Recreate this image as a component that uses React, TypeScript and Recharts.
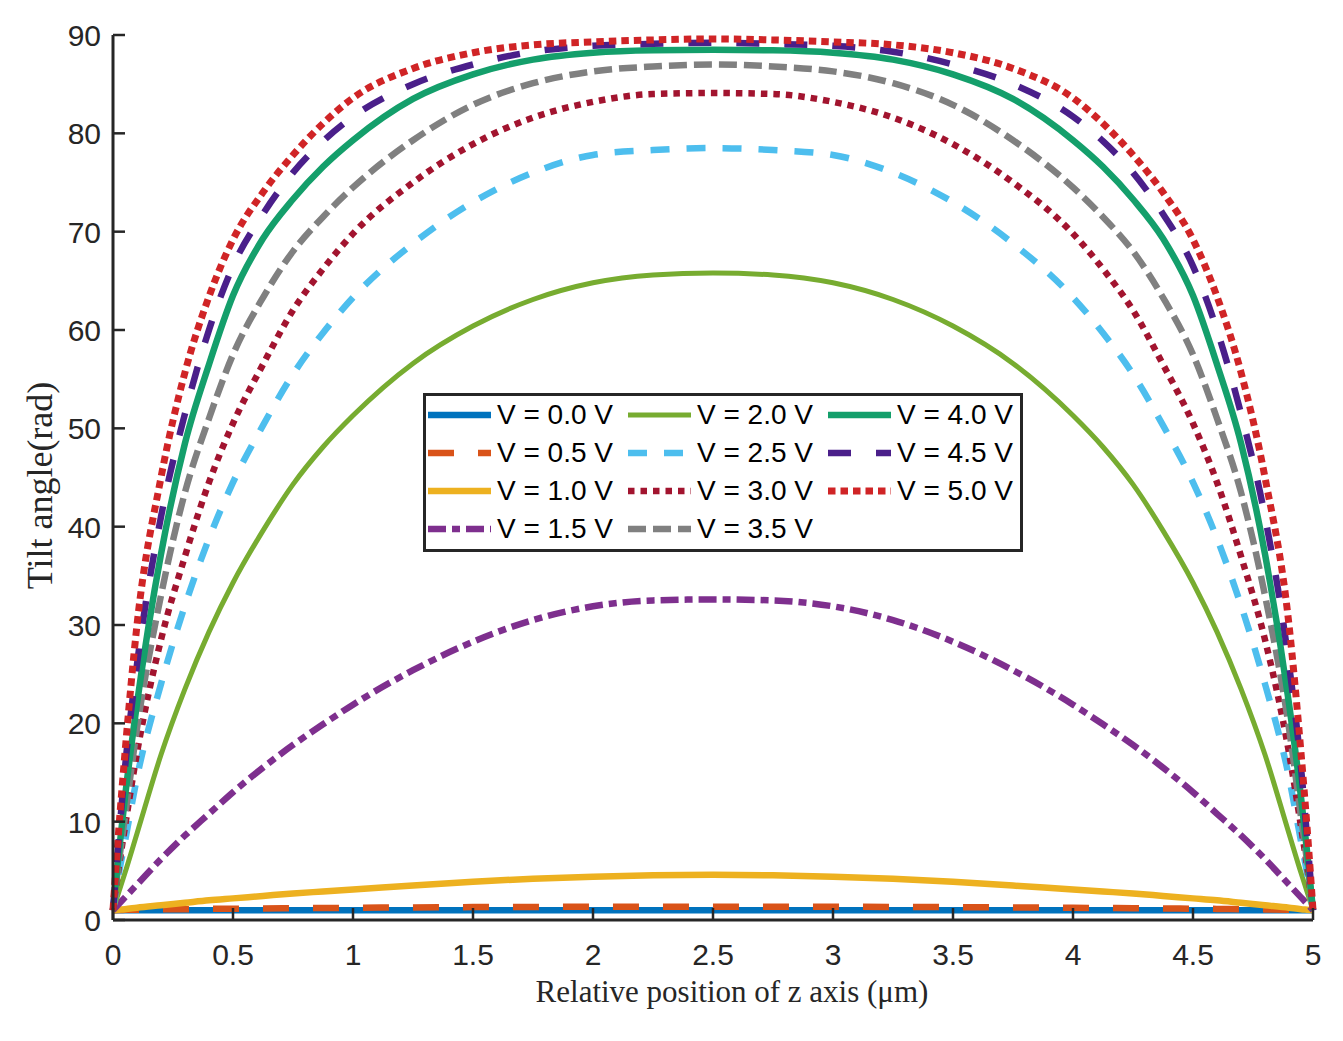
import { Legend, Line, LineChart, XAxis, YAxis } from "recharts";

// z positions across the cell (µm)
const zPos = [0, 0.025, 0.05, 0.1, 0.2, 0.3, 0.4, 0.5, 0.625, 0.75, 0.875, 1, 1.25, 1.5, 1.75, 2, 2.25, 2.5, 2.75, 3, 3.25, 3.5, 3.75, 4, 4.125, 4.25, 4.375, 4.5, 4.6, 4.7, 4.8, 4.9, 4.95, 4.975, 5];

// tilt angle for each applied voltage
const v00 = [1, 1, 1, 1, 1, 1, 1, 1, 1, 1, 1, 1, 1, 1, 1, 1, 1, 1, 1, 1, 1, 1, 1, 1, 1, 1, 1, 1, 1, 1, 1, 1, 1, 1, 1];
const v05 = [1, 1.02, 1.03, 1.05, 1.08, 1.1, 1.13, 1.15, 1.18, 1.2, 1.22, 1.24, 1.28, 1.31, 1.33, 1.34, 1.35, 1.35, 1.35, 1.34, 1.33, 1.31, 1.28, 1.24, 1.22, 1.2, 1.18, 1.15, 1.13, 1.1, 1.08, 1.05, 1.03, 1.02, 1];
const v10 = [1, 1.05, 1.1, 1.25, 1.5, 1.75, 2, 2.2, 2.45, 2.7, 2.9, 3.1, 3.5, 3.9, 4.2, 4.4, 4.55, 4.6, 4.55, 4.4, 4.2, 3.9, 3.5, 3.1, 2.9, 2.7, 2.45, 2.2, 2, 1.75, 1.5, 1.25, 1.1, 1.05, 1];
const v15 = [1, 1.65, 2.3, 3.6, 6.2, 8.6, 10.8, 13, 15.5, 17.8, 19.9, 21.9, 25.4, 28.3, 30.5, 31.9, 32.5, 32.6, 32.5, 31.9, 30.5, 28.3, 25.4, 21.9, 19.9, 17.8, 15.5, 13, 10.8, 8.6, 6.2, 3.6, 2.3, 1.65, 1];
const v20 = [1, 2.9, 4.8, 8.8, 16.8, 23.5, 29.3, 34.3, 39.6, 44.3, 48.1, 51.3, 56.6, 60.4, 63.1, 64.8, 65.6, 65.8, 65.6, 64.8, 63.1, 60.4, 56.6, 51.3, 48.1, 44.3, 39.6, 34.3, 29.3, 23.5, 16.8, 8.8, 4.8, 2.9, 1];
const v25 = [1, 4.8, 8, 14.5, 24, 32, 38.8, 44.5, 50.3, 55.5, 59.7, 63.3, 68.8, 73, 76, 77.8, 78.3, 78.5, 78.3, 77.8, 76, 73, 68.8, 63.3, 59.7, 55.5, 50.3, 44.5, 38.8, 32, 24, 14.5, 8, 4.8, 1];
const v30 = [1, 5.5, 9.5, 17, 28.5, 37, 44.5, 50.5, 56.5, 62, 66.2, 69.8, 75, 78.9, 81.6, 83.2, 84, 84.1, 84, 83.2, 81.6, 78.9, 75, 69.8, 66.2, 62, 56.5, 50.5, 44.5, 37, 28.5, 17, 9.5, 5.5, 1];
const v35 = [1, 6, 10.5, 19.5, 33, 43.5, 51, 57.5, 63.3, 68, 71.5, 74.5, 79.3, 82.9, 85.1, 86.3, 86.8, 87, 86.8, 86.3, 85.1, 82.9, 79.3, 74.5, 71.5, 68, 63.3, 57.5, 51, 43.5, 33, 19.5, 10.5, 6, 1];
const v40 = [1, 7, 12.5, 22, 37.2, 48.5, 56.5, 63.5, 69.3, 73.3, 76.6, 79.3, 83.5, 86, 87.5, 88.2, 88.45, 88.5, 88.45, 88.2, 87.5, 86, 83.5, 79.3, 76.6, 73.3, 69.3, 63.5, 56.5, 48.5, 37.2, 22, 12.5, 7, 1];
const v45 = [1, 8.5, 15.5, 26, 41, 51.5, 60, 66.5, 71.8, 76, 79.2, 81.7, 85, 87, 88.3, 88.9, 89.1, 89.2, 89.1, 88.9, 88.3, 87, 85, 81.7, 79.2, 76, 71.8, 66.5, 60, 51.5, 41, 26, 15.5, 8.5, 1];
const v50 = [1, 9.5, 17, 30, 45, 55.7, 63.4, 69.2, 74, 77.8, 81, 83.6, 86.6, 88.2, 89, 89.3, 89.5, 89.6, 89.5, 89.3, 89, 88.2, 86.6, 83.6, 81, 77.8, 74, 69.2, 63.4, 55.7, 45, 30, 17, 9.5, 1];

const xTicks = [0, 0.5, 1, 1.5, 2, 2.5, 3, 3.5, 4, 4.5, 5];
const yTicks = [0, 10, 20, 30, 40, 50, 60, 70, 80, 90];

const series = [
  { key: "v00", label: "V = 0.0 V", values: v00, color: "#0072BD", width: 6.5, dash: undefined },
  { key: "v05", label: "V = 0.5 V", values: v05, color: "#D95319", width: 6.5, dash: "26 24" },
  { key: "v10", label: "V = 1.0 V", values: v10, color: "#EDB120", width: 6.5, dash: undefined },
  { key: "v15", label: "V = 1.5 V", values: v15, color: "#7E2F8E", width: 6.5, dash: "18 6 8 6" },
  { key: "v20", label: "V = 2.0 V", values: v20, color: "#77AC30", width: 5, dash: undefined },
  { key: "v25", label: "V = 2.5 V", values: v25, color: "#4DBEEE", width: 6.5, dash: "19 17" },
  { key: "v30", label: "V = 3.0 V", values: v30, color: "#A2142F", width: 6.5, dash: "6.5 6" },
  { key: "v35", label: "V = 3.5 V", values: v35, color: "#808080", width: 6.5, dash: "18 7" },
  { key: "v40", label: "V = 4.0 V", values: v40, color: "#149F6B", width: 6.5, dash: undefined },
  { key: "v45", label: "V = 4.5 V", values: v45, color: "#4A1F8A", width: 6.5, dash: "23 25" },
  { key: "v50", label: "V = 5.0 V", values: v50, color: "#D02426", width: 7, dash: "7.5 5" },
];

const data = zPos.map((z, i) => {
  const row: Record<string, number> = { z };
  series.forEach((s) => (row[s.key] = s.values[i]));
  return row;
});

const INK = "#262626";
const SANS = "'Liberation Sans', Arial, Helvetica, sans-serif";
const SERIF = "'Liberation Serif', 'Times New Roman', serif";
const TICK = 12;

function BottomTick({ x, y, payload }: any) {
  return (
    <g>
      <line x1={x} x2={x} y1={y} y2={y - TICK} stroke={INK} strokeWidth={2.5} />
      <text x={x} y={y + 45} textAnchor="middle" fontSize={30} fontFamily={SANS} fill={INK}>
        {String(payload.value)}
      </text>
    </g>
  );
}

function TopTick({ x, y }: any) {
  return <line x1={x} x2={x} y1={y} y2={y + TICK} stroke={INK} strokeWidth={2.5} />;
}

function LeftTick({ x, y, payload }: any) {
  return (
    <g>
      <line x1={x} x2={x + TICK} y1={y} y2={y} stroke={INK} strokeWidth={2.5} />
      <text x={x - 12} y={y + 11} textAnchor="end" fontSize={30} fontFamily={SANS} fill={INK}>
        {String(payload.value)}
      </text>
    </g>
  );
}

function RightTick({ x, y }: any) {
  return <line x1={x} x2={x - TICK} y1={y} y2={y} stroke={INK} strokeWidth={2.5} />;
}

function LegendBox() {
  return (
    <div
      style={{
        boxSizing: "border-box",
        width: 600,
        height: 159,
        border: `3px solid ${INK}`,
        background: "#fff",
        paddingLeft: 2,
        display: "grid",
        gridTemplateColumns: "200px 200px 192px",
        gridTemplateRows: "repeat(4, 38px)",
        gridAutoFlow: "column",
        fontFamily: SANS,
        fontSize: 28,
        color: "#000",
      }}
    >
      {series.map((s) => (
        <div key={s.key} style={{ display: "flex", alignItems: "center", whiteSpace: "nowrap" }}>
          <svg width={63} height={10} style={{ marginRight: 6, flex: "none" }}>
            <line x1={0} x2={63} y1={5} y2={5} stroke={s.color} strokeWidth={s.width} strokeDasharray={s.dash} />
          </svg>
          <span>{s.label}</span>
        </div>
      ))}
    </div>
  );
}

export default function App() {
  return (
    <div style={{ position: "absolute", left: 0, top: 0, width: 1343, height: 1041, background: "#fff" }}>
      <LineChart width={1343} height={1041} data={data} margin={{ top: 35, right: 30, bottom: 0, left: 0 }}>
        <XAxis
          dataKey="z"
          type="number"
          domain={[0, 5]}
          ticks={xTicks}
          interval={0}
          height={121}
          tickSize={0}
          tickMargin={0}
          tickLine={false}
          tick={<BottomTick />}
          axisLine={{ stroke: INK, strokeWidth: 3 }}
          label={{
            content: ({ viewBox }: any) => (
              <text
                x={viewBox.x + viewBox.width / 2 + 19}
                y={1002}
                textAnchor="middle"
                fontSize={31}
                fontFamily={SERIF}
                fill={INK}
              >
                Relative position of z axis (μm)
              </text>
            ),
          }}
        />
        <XAxis
          xAxisId="top"
          orientation="top"
          dataKey="z"
          type="number"
          domain={[0, 5]}
          ticks={xTicks}
          interval={0}
          height={0}
          tickSize={0}
          tickMargin={0}
          tickLine={false}
          tick={<TopTick />}
          axisLine={{ stroke: INK, strokeWidth: 3 }}
        />
        <YAxis
          type="number"
          domain={[0, 90]}
          ticks={yTicks}
          interval={0}
          width={113}
          tickSize={0}
          tickMargin={0}
          tickLine={false}
          tick={<LeftTick />}
          axisLine={{ stroke: INK, strokeWidth: 3 }}
          label={{
            content: ({ viewBox }: any) => {
              const cx = 52;
              const cy = viewBox.y + viewBox.height / 2 + 8;
              return (
                <text
                  x={cx}
                  y={cy}
                  transform={`rotate(-90 ${cx} ${cy})`}
                  textAnchor="middle"
                  fontSize={36}
                  fontFamily={SERIF}
                  fill={INK}
                >
                  Tilt angle(rad)
                </text>
              );
            },
          }}
        />
        <YAxis
          yAxisId="right"
          orientation="right"
          type="number"
          domain={[0, 90]}
          ticks={yTicks}
          interval={0}
          width={0}
          tickSize={0}
          tickMargin={0}
          tickLine={false}
          tick={<RightTick />}
          axisLine={{ stroke: INK, strokeWidth: 3 }}
        />
        <Legend
          layout="vertical"
          align="center"
          verticalAlign="middle"
          content={() => <LegendBox />}
          wrapperStyle={{ left: 423, top: 393, width: 600, height: 159 }}
        />
        {series.map((s) => (
          <Line
            key={s.key}
            type="monotone"
            dataKey={s.key}
            stroke={s.color}
            strokeWidth={s.width}
            strokeDasharray={s.dash}
            dot={false}
            activeDot={false}
            isAnimationActive={false}
          />
        ))}
      </LineChart>
    </div>
  );
}
